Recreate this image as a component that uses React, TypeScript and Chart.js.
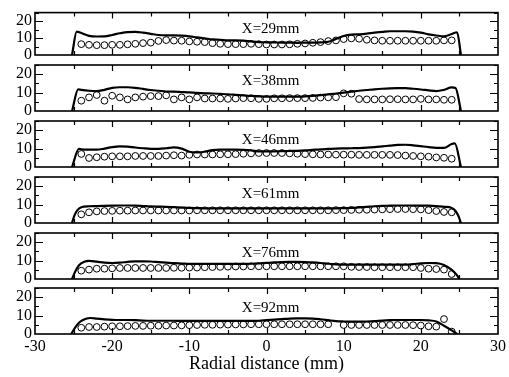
import React, { useEffect, useRef } from "react";
import { Chart, registerables } from "chart.js";

Chart.register(...registerables);

// ---------- data ----------
const CIRCLE_X = [-24, -23, -22, -21, -20, -19, -18, -17, -16, -15, -14, -13, -12, -11, -10, -9, -8, -7, -6, -5, -4, -3, -2, -1, 0, 1, 2, 3, 4, 5, 6, 7, 8, 9, 10, 11, 12, 13, 14, 15, 16, 17, 18, 19, 20, 21, 22, 23, 24];

const INNER_X = [-24, -23, -22, -21, -20, -19, -18, -17, -16, -15, -14, -13, -12, -11, -10, -9, -8, -7, -6, -5, -4, -3, -2, -1, 0, 1, 2, 3, 4, 5, 6, 7, 8, 9, 10, 11, 12, 13, 14, 15, 16, 17, 18, 19, 20, 21, 22, 23, 24];

const PANEL_LABELS = ["X=29mm", "X=38mm", "X=46mm", "X=61mm", "X=76mm", "X=92mm"];
const X_TICKS = [-30, -20, -10, 0, 10, 20, 30];
const Y_TICKS = [0, 10, 20];
const X_TITLE = "Radial distance (mm)";

// X=29mm
const LINE_X_29 = [-25.2, -24.6, ...INNER_X, 24.7, 25.2];
const LINE_Y_29 = [0, 13.8,
  13, 11.3, 10.9, 11, 11.8, 12.8, 13.5, 13.6, 13.2, 12.5, 11.8, 11.6, 11.6, 11.4, 11, 10.4, 9.8, 9.2, 9, 8.6, 8.6, 8.5, 8, 7.6,
  7.5, 7.4, 7.3, 7.3, 7.2, 7.3, 7.3, 7.4, 7.8, 9.5, 11.2, 12, 12.2, 12.6, 13.2, 13.6, 14, 14, 14, 13.8, 13.2, 12.2, 11.5, 11, 12.4,
  13.4, 0];
const CIRC_Y_29 = [6.4, 6, 5.8, 5.8, 6, 6, 6.3, 6.6, 7, 7.3, 8.3, 8.8, 8.5, 8.4, 8, 7.8, 7.6, 7, 6.6, 6.4, 6.4, 6.4, 6.6, 6.4,
  6.2, 6.2, 6.2, 6.3, 6.6, 6.8, 7.2, 7.6, 8.2, 8.6, 9.4, 9.8, 9.6, 9, 8.6, 8.4, 8.4, 8.4, 8.4, 8.4, 8.4, 8.4, 8.4, 8.6, 8.6];

// X=38mm
const LINE_X_38 = [-25.2, -24.4, ...INNER_X, 24.5, 25.2];
const LINE_Y_38 = [0, 11.8,
  11.5, 11, 10.8, 11.5, 12.6, 12.9, 12.9, 12.6, 12, 11.4, 11, 10.6, 10.5, 10.3, 10.1, 9.8, 9.6, 9.5, 9.3, 9.1, 8.8, 8.5, 8.2, 8,
  7.8, 7.8, 7.8, 7.8, 7.8, 7.9, 8.2, 8.6, 9, 9.5, 10, 10.5, 11, 11.4, 11.8, 12.1, 12.3, 12.4, 12.4, 12.1, 11.7, 11.2, 10.8, 11.5, 12.8,
  12.5, 0];
const CIRC_Y_38 = [5.6, 7.4, 8.7, 5.6, 8.3, 7.4, 6.3, 7.4, 7.8, 8.1, 8.1, 8.5, 6.3, 7.4, 6.3, 7.4, 6.8, 6.8, 6.8, 6.6, 6.8, 7, 6.9, 6.6,
  6.6, 6.9, 6.9, 7, 7, 7, 7.1, 7.3, 7.4, 7.5, 9.6, 9.4, 6.5, 6.3, 6.3, 6.3, 6.4, 6.4, 6.3, 6.3, 6.6, 6.3, 6.3, 6.1, 6.1];

// X=46mm
const LINE_X_46 = [-25.2, -24.3, ...INNER_X, 24.4, 25.2];
const LINE_Y_46 = [0, 9.9,
  9.6, 9.4, 9.4, 10, 10.8, 11.2, 11.1, 10.6, 10.2, 9.9, 9.9, 10.2, 10.7, 10, 8.3, 8, 8.3, 9.2, 9.4, 9.4, 9.4, 9.3, 9, 8.5,
  8.5, 8.5, 8.6, 8.7, 8.8, 9, 9.3, 9.6, 9.8, 10, 10.1, 10.2, 10.3, 10.5, 10.8, 11.2, 11.6, 12, 12.1, 11.8, 11.3, 10.8, 10.4, 10.4, 12.5,
  12.8, 0];
const CIRC_Y_46 = [7.1, 4.9, 5.3, 5.6, 5.8, 5.8, 5.8, 6, 6, 6, 6, 6.2, 6.4, 6.2, 6.6, 6.8, 6.8, 6.8, 6.9, 6.9, 7, 7.2, 7.4, 7.6,
  7.6, 7.6, 7.6, 7.4, 7.2, 7, 6.9, 6.8, 6.8, 6.7, 6.7, 6.7, 6.6, 6.6, 6.6, 6.6, 6.6, 6.5, 6.2, 6, 5.8, 5.6, 5.2, 5, 4.5];

// X=61mm
const LINE_X_61 = [-25.2, -24.9, -24.5, ...INNER_X, 24.5, 24.9, 25.2];
const LINE_Y_61 = [0, 4, 7,
  8.6, 9.1, 9.2, 9.3, 9.4, 9.5, 9.5, 9.4, 9.2, 9, 8.9, 8.8, 8.6, 8.4, 8.2, 8.1, 8, 8, 8, 8, 8, 8, 8, 8,
  8, 8, 8, 8, 8, 8, 8, 8, 8, 8, 8.1, 8.2, 8.5, 8.8, 9.1, 9.3, 9.4, 9.5, 9.5, 9.5, 9.4, 9.4, 9.2, 8.8, 8.2,
  6.5, 3.5, 0];
const CIRC_Y_61 = [4.7, 5.8, 6.3, 6.5, 6.6, 6.7, 6.7, 6.8, 6.8, 6.8, 6.8, 6.8, 6.8, 6.8, 6.8, 6.9, 6.9, 6.9, 6.9, 6.9, 6.9, 6.9, 6.9, 6.9,
  6.9, 6.9, 6.9, 6.9, 6.9, 6.9, 6.9, 6.9, 6.9, 7, 7, 7.1, 7.2, 7.2, 7.3, 7.4, 7.5, 7.6, 7.6, 7.5, 7.4, 7, 6.5, 6, 5.8];

// X=76mm
const LINE_X_76 = [-25.2, -24.8, -24.3, -23.6, ...INNER_X.slice(1), 24.6, 25, 25.3];
const LINE_Y_76 = [0, 4, 7.5, 9.4,
  9.8, 9.4, 8.9, 8.7, 8.9, 9.3, 9.6, 9.6, 9.5, 9.2, 8.9, 8.6, 8.4, 8.2, 8.2, 8.2, 8.2, 8.2, 8.2, 8.2, 8.2, 8.3,
  8.5, 8.8, 9, 9.2, 9.3, 9.3, 9.2, 9, 8.7, 8.3, 8, 7.8, 7.8, 7.8, 7.8, 7.8, 7.8, 7.8, 7.8, 7.8, 8.1, 8.5, 8.7, 8.6, 7.6,
  5, 2.5, 0];
const CIRC_Y_76 = [4.5, 5.1, 5.6, 5.6, 5.8, 6, 6, 6, 6, 6, 6, 6, 6.1, 6.1, 6.2, 6.2, 6.4, 6.5, 6.6, 6.7, 6.8, 6.8, 6.9, 6.9,
  6.9, 6.9, 6.9, 6.9, 6.9, 6.9, 6.9, 6.9, 6.9, 6.9, 6.9, 6.6, 6.5, 6.5, 6.4, 6.4, 6.4, 6.4, 6.4, 6.4, 6, 5.6, 5.4, 5.1, 2.7];

// X=92mm
const LINE_X_92 = [-25.3, -24.8, -24.2, -23.4, -22.8, ...INNER_X.slice(2), 24.7, 25.1, 25.3];
const LINE_Y_92 = [0, 3.5, 6.5, 8.3, 8.7,
  8.4, 8, 7.7, 7.6, 7.6, 7.5, 7.3, 7.2, 7.2, 7.2, 7.2, 7.1, 7.1, 7.1, 7.1, 7.1, 7.1, 7.1, 7.1, 7.1,
  7.1, 7.2, 7.5, 7.8, 8.1, 8.4, 8.5, 8.5, 8.4, 8, 7.5, 7, 6.8, 6.7, 6.7, 6.8, 7, 7.3, 7.5, 7.6, 7.6, 7.6, 7.6, 7.4, 6.8,
  4.5, 2, 0];
const CIRC_Y_92 = [3.4, 3.8, 3.8, 4, 4.2, 4.2, 4.3, 4.4, 4.4, 4.5, 4.5, 4.6, 4.6, 4.7, 4.8, 4.9, 5, 5, 5.1, 5.1, 5.2, 5.2, 5.3, 5.3,
  5.3, 5.3, 5.3, 5.3, 5.3, 5.3, 5.3, 5.3, 5.3, null, 4.9, 4.9, 4.9, 4.9, 4.9, 4.9, 4.9, 4.9, 4.9, 4.8, 4.6, 4.2, 4, 8.1, 1.3];

const LINE_XS = [LINE_X_29, LINE_X_38, LINE_X_46, LINE_X_61, LINE_X_76, LINE_X_92];
const LINE_YS = [LINE_Y_29, LINE_Y_38, LINE_Y_46, LINE_Y_61, LINE_Y_76, LINE_Y_92];
const CIRC_YS = [CIRC_Y_29, CIRC_Y_38, CIRC_Y_46, CIRC_Y_61, CIRC_Y_76, CIRC_Y_92];
const LABEL_POS = [
  [-3.2, 15.2],
  [-3.2, 16.2],
  [-3.2, 14.6],
  [-3.2, 15.8],
  [-3.2, 14.3],
  [-3.2, 14.3],
];

// ---------- layout ----------
const W = 509;
const H = 377;
const PANEL_TOPS = [9, 65, 121, 177, 233, 288];
const PANEL_BOTTOMS = [55, 111, 167, 223, 279, 334];
const AREA_LEFT = 35;
const AREA_RIGHT = 498;
const FONT = "'Liberation Serif', 'Times New Roman', serif";

const decoPlugin = {
  id: "deco",
  afterDraw(chart: any, _args: any, opts: any) {
    const { ctx, chartArea } = chart;
    const xs = chart.scales.x;
    const ys = chart.scales.y;
    const { left, right, top, bottom } = chartArea;
    ctx.save();
    ctx.strokeStyle = "#000";
    ctx.lineWidth = 1.6;
    ctx.strokeRect(left, top, right - left, bottom - top);
    ctx.lineWidth = 1.2;
    ctx.beginPath();
    for (let v = -25; v <= 25; v += 5) {
      const px = Math.round(xs.getPixelForValue(v)) + 0.5;
      const len = v % 10 === 0 ? 6 : 4;
      ctx.moveTo(px, top);
      ctx.lineTo(px, top + len);
      ctx.moveTo(px, bottom);
      ctx.lineTo(px, bottom - len);
    }
    for (let v = 5; v <= 25; v += 5) {
      const py = Math.round(ys.getPixelForValue(v)) + 0.5;
      const len = v % 10 === 0 ? 8 : 4;
      ctx.moveTo(left, py);
      ctx.lineTo(left + len, py);
      ctx.moveTo(right, py);
      ctx.lineTo(right - len, py);
    }
    ctx.stroke();
    ctx.fillStyle = "#000";
    ctx.font = `15px ${FONT}`;
    ctx.textAlign = "left";
    ctx.textBaseline = "middle";
    ctx.fillText(opts.label, xs.getPixelForValue(opts.lx), ys.getPixelForValue(opts.ly));
    ctx.restore();
  },
};

function Panel({ index }: { index: number }) {
  const ref = useRef<HTMLCanvasElement | null>(null);
  useEffect(() => {
    const canvas = ref.current;
    if (!canvas) return;
    const isLast = index === 5;
    const lineX = LINE_XS[index];
    const lineY = LINE_YS[index];
    const circY = CIRC_YS[index];
    const chart = new Chart(canvas, {
      type: "scatter",
      data: {
        datasets: [
          {
            type: "line",
            data: lineX.map((x, i) => ({ x, y: lineY[i] })),
            borderColor: "#000",
            borderWidth: 2.2,
            pointRadius: 0,
            fill: false,
            cubicInterpolationMode: "monotone",
            order: 2,
          } as any,
          {
            type: "scatter",
            data: CIRCLE_X.map((x, i) => ({ x, y: circY[i] })),
            pointStyle: "circle",
            pointRadius: 3.4,
            borderColor: "#000",
            borderWidth: 1,
            backgroundColor: "rgba(0,0,0,0)",
            showLine: false,
            order: 1,
          } as any,
        ],
      },
      options: {
        animation: false,
        responsive: false,
        maintainAspectRatio: false,
        events: [],
        layout: {
          padding: {
            top: PANEL_TOPS[index],
            bottom: isLast ? 0 : H - PANEL_BOTTOMS[index],
            left: 0,
            right: W - AREA_RIGHT,
          },
        },
        plugins: {
          legend: { display: false },
          tooltip: { enabled: false },
          deco: { label: PANEL_LABELS[index], lx: LABEL_POS[index][0], ly: LABEL_POS[index][1] },
        } as any,
        scales: {
          x: {
            type: "linear",
            min: -30,
            max: 30,
            display: isLast,
            afterBuildTicks: (s: any) => {
              s.ticks = X_TICKS.map((v) => ({ value: v }));
            },
            grid: { display: false, drawTicks: false },
            border: { display: false },
            ticks: {
              color: "#000",
              font: { family: FONT, size: 16 },
              padding: 3,
              maxRotation: 0,
              autoSkip: false,
            },
            title: {
              display: true,
              text: X_TITLE,
              color: "#000",
              font: { family: FONT, size: 18 },
              padding: { top: 0, bottom: 2 },
            },
            afterFit: (s: any) => {
              s.height = isLast ? H - PANEL_BOTTOMS[5] : 0;
            },
          },
          y: {
            type: "linear",
            min: 0,
            max: 25,
            afterBuildTicks: (s: any) => {
              s.ticks = Y_TICKS.map((v) => ({ value: v }));
            },
            grid: { display: false, drawTicks: false },
            border: { display: false },
            ticks: {
              color: "#000",
              font: { family: FONT, size: 16 },
              padding: 3,
              autoSkip: false,
            },
            afterFit: (s: any) => {
              s.width = AREA_LEFT;
            },
          },
        },
      },
      plugins: [decoPlugin],
    } as any);
    return () => chart.destroy();
  }, [index]);
  return (
    <canvas
      ref={ref}
      width={W}
      height={H}
      style={{ position: "absolute", left: 0, top: 0, width: W, height: H }}
    />
  );
}

export default function App() {
  return (
    <div style={{ position: "absolute", left: 0, top: 0, width: W, height: H, background: "#fff" }}>
      {[0, 1, 2, 3, 4, 5].map((i) => (
        <Panel key={i} index={i} />
      ))}
    </div>
  );
}
